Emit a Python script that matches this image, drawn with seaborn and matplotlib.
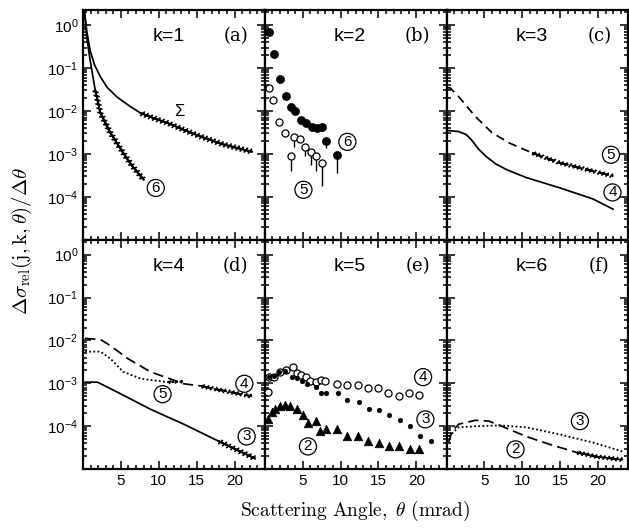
import numpy as np
import seaborn as sns
import matplotlib.pyplot as plt
import matplotlib.ticker as mticker
import matplotlib.patheffects as pe

# ---- data (x in mrad, y = relative cross section) ----
# (a) k=1
a_sum_x = [0.2, 0.5, 0.93, 1.5, 2.3, 3.2, 4.5, 6.0, 7.6, 9.5, 11.2, 13.5, 15.6, 18.5, 22.3]
a_sum_y = [2.0, 0.71, 0.26, 0.12, 0.062, 0.035, 0.021, 0.0135, 0.0089, 0.0066, 0.0052, 0.0035, 0.0025, 0.00166, 0.00112]
a_j6_x = [0.2, 0.5, 0.93, 1.6, 2.3, 3.6, 5.3, 6.5, 8.0]
a_j6_y = [2.0, 0.5, 0.155, 0.031, 0.0089, 0.0031, 0.00105, 0.00052, 0.00025]

# (b) k=2, measured points
b_j6_x = [0.53, 1.2, 2.0, 2.8, 3.4, 4.0, 4.8, 5.4, 6.2, 6.9, 7.5, 8.1, 9.5]
b_j6_y = [0.69, 0.21, 0.055, 0.022, 0.0123, 0.010, 0.0062, 0.0052, 0.0043, 0.0040, 0.0043, 0.0020, 0.00095]
b_j6_err_x = [8.1, 9.5]
b_j6_err_top = [0.0020, 0.00095]
b_j6_err_low = [0.00138, 0.00035]
b_j5_x = [0.53, 1.1, 1.9, 2.7, 3.4, 3.9, 4.7, 5.3, 6.1, 6.8, 7.5]
b_j5_y = [0.035, 0.0178, 0.0056, 0.0030, 0.00087, 0.0025, 0.0022, 0.00148, 0.00112, 0.00089, 0.00062]
b_j5_err_x = [3.4, 3.9, 5.3, 6.1, 6.8, 7.5]
b_j5_err_top = [0.00087, 0.0025, 0.00148, 0.00112, 0.00089, 0.00062]
b_j5_err_low = [0.00039, 0.00148, 0.00087, 0.00055, 0.00039, 0.000174]

# (c) k=3
c_j5_x = [0.1, 0.5, 1.6, 3.8, 6.0, 8.3, 11.3, 14.9, 18.5, 22.0]
c_j5_y = [0.035, 0.034, 0.0214, 0.0074, 0.0031, 0.00178, 0.00105, 0.00062, 0.00043, 0.00030]
c_j4_x = [0.1, 1.6, 2.6, 3.3, 4.2, 5.2, 6.5, 7.9, 10.5, 14.9, 19.3, 22.0]
c_j4_y = [0.0035, 0.0033, 0.0028, 0.0021, 0.0013, 0.00087, 0.00058, 0.00043, 0.00028, 0.000162, 0.000089, 0.000051]

# (d) k=4
d_j4_x = [0.27, 2.3, 3.6, 5.9, 8.9, 13.3, 15.6, 17.9, 22.3]
d_j4_y = [0.0112, 0.0105, 0.0076, 0.0038, 0.00186, 0.00098, 0.00087, 0.00071, 0.0005]
d_j5_x = [0.27, 2.3, 3.6, 5.3, 7.6, 11.2, 13.3]
d_j5_y = [0.0055, 0.0055, 0.0038, 0.00186, 0.00129, 0.00107, 0.0011]
d_j3_x = [0.27, 1.9, 4.5, 8.9, 13.3, 17.9, 22.7]
d_j3_y = [0.00107, 0.00107, 0.00063, 0.00025, 0.000112, 0.000045, 0.0000178]

# (e) k=5, measured points
e_j4_x = [0.4, 0.6, 1.2, 2.0, 2.8, 3.7, 4.2, 4.8, 5.4, 6.0, 6.7, 7.4, 8.0, 9.5, 10.9,
          12.3, 13.6, 14.9, 16.3, 17.7, 19.1, 20.4]
e_j4_y = [0.00063, 0.0014, 0.0014, 0.00186, 0.0021, 0.00245, 0.00178, 0.00158, 0.0014, 0.00115, 0.00107,
          0.0012, 0.00115, 0.00098, 0.00091, 0.00091, 0.00078, 0.00078, 0.0006, 0.00051, 0.0006, 0.00054]
e_j3_x = [0.53, 1.2, 1.9, 2.7, 3.6, 4.2, 4.9, 5.6, 6.7, 7.4, 8.1, 9.6, 10.9, 12.4, 13.7,
          15.1, 16.4, 17.9, 19.2, 20.5, 22.0]
e_j3_y = [0.0014, 0.0015, 0.00186, 0.00195, 0.0014, 0.00135, 0.00115, 0.00098, 0.00083, 0.0006, 0.0006,
          0.0006, 0.00041, 0.00036, 0.00026, 0.00024, 0.000182, 0.000138, 0.0001, 0.000058, 0.000045]
e_j2_x = [0.4, 0.9, 1.3, 2.0, 2.7, 3.3, 4.2, 5.0, 5.7, 6.7, 7.3, 8.1, 9.5, 10.8, 12.3,
          13.6, 15.1, 16.4, 17.7, 19.2, 20.4]
e_j2_y = [0.000145, 0.00021, 0.00026, 0.0003, 0.00031, 0.0003, 0.00025, 0.000182, 0.000117, 0.000132, 0.000076,
          0.000085, 0.000085, 0.000058, 0.000058, 0.000045, 0.00004, 0.000034, 0.000035, 0.00003, 0.00003]

# (f) k=6
f_j2_x = [0.27, 0.7, 1.6, 3.8, 5.6, 7.3, 10.5, 13.6, 17.2, 19.9, 23.3]
f_j2_y = [0.000042, 0.000076, 0.000112, 0.000138, 0.000132, 0.0001, 0.000058, 0.000038, 0.0000245, 0.0000195, 0.0000166]
f_j3_x = [0.27, 1.6, 3.8, 6.9, 10.5, 14.9, 19.3, 23.3]
f_j3_y = [0.000058, 0.000095, 0.0001, 0.000105, 0.000095, 0.000065, 0.000042, 0.0000257]

k_labels = ["k=1", "k=2", "k=3", "k=4", "k=5", "k=6"]
panel_tags = ["(a)", "(b)", "(c)", "(d)", "(e)", "(f)"]

sns.set_style("ticks")
plt.rcParams["font.family"] = ["Liberation Sans", "DejaVu Sans"]
plt.rcParams["mathtext.fontset"] = "cm"
for key in ["axes.edgecolor", "xtick.color", "ytick.color", "text.color", "axes.labelcolor"]:
    plt.rcParams[key] = "black"

fig, axes = plt.subplots(2, 3, figsize=(6.29, 5.29), dpi=100, sharex=True, sharey=True)
fig.subplots_adjust(left=0.132, right=0.999, bottom=0.113, top=0.981, wspace=0, hspace=0)
axs = axes.flatten()

hatch = [pe.Normal(),
         pe.withTickedStroke(spacing=3.0, angle=65, length=0.6),
         pe.withTickedStroke(spacing=3.0, angle=-115, length=0.6)]


def curve(ax, x, y, ls="-", hatch_from=None, lw=1.25):
    sns.lineplot(x=x, y=y, ax=ax, color="k", linestyle=ls, linewidth=lw, sort=False)
    if hatch_from is not None:
        hx = [xi for xi in x if xi >= hatch_from]
        hy = [yi for xi, yi in zip(x, y) if xi >= hatch_from]
        sns.lineplot(x=hx, y=hy, ax=ax, color="k", linestyle=ls, linewidth=lw,
                     sort=False, path_effects=hatch)


def tag(ax, x, y, s):
    ax.text(x, y, s, fontsize=11, ha="center", va="center",
            bbox=dict(boxstyle="circle,pad=0.1", fc="none", ec="k", lw=0.9))


# (a)
ax = axs[0]
curve(ax, a_sum_x, a_sum_y, hatch_from=7.6)
curve(ax, a_j6_x, a_j6_y, hatch_from=1.6)
ax.text(12.7, 0.0095, "Σ", fontsize=12, ha="center", va="center")
tag(ax, 9.6, 0.00016, "6")

# (b)
ax = axs[1]
ax.vlines(b_j6_err_x, b_j6_err_low, b_j6_err_top, color="k", lw=1)
ax.vlines(b_j5_err_x, b_j5_err_low, b_j5_err_top, color="k", lw=1)
sns.scatterplot(x=b_j6_x, y=b_j6_y, ax=ax, color="k", s=34, edgecolor="k", zorder=3)
sns.scatterplot(x=b_j5_x, y=b_j5_y, ax=ax, facecolor="white", edgecolor="k", s=26, linewidth=0.9, zorder=3)
tag(ax, 10.9, 0.0019, "6")
tag(ax, 5.1, 0.000145, "5")

# (c)
ax = axs[2]
curve(ax, c_j5_x, c_j5_y, ls=(0, (5, 3)), hatch_from=9.5)
curve(ax, c_j4_x, c_j4_y)
tag(ax, 21.7, 0.00095, "5")
tag(ax, 21.9, 0.000126, "4")

# (d)
ax = axs[3]
curve(ax, d_j4_x, d_j4_y, ls=(0, (6, 3)), hatch_from=15.6)
curve(ax, d_j5_x, d_j5_y, ls=(0, (1, 1.3)), hatch_from=8.9, lw=1.3)
curve(ax, d_j3_x, d_j3_y, hatch_from=17.9)
tag(ax, 21.3, 0.00098, "4")
tag(ax, 10.5, 0.00056, "5")
tag(ax, 21.6, 0.000058, "3")

# (e)
ax = axs[4]
sns.scatterplot(x=e_j4_x, y=e_j4_y, ax=ax, facecolor="white", edgecolor="k", s=26, linewidth=0.9, zorder=3)
sns.scatterplot(x=e_j3_x, y=e_j3_y, ax=ax, color="k", s=12, edgecolor="k", zorder=4)
sns.scatterplot(x=e_j2_x, y=e_j2_y, ax=ax, color="k", marker="^", s=38, edgecolor="k", zorder=3)
tag(ax, 20.9, 0.0014, "4")
tag(ax, 21.2, 0.000145, "3")
tag(ax, 5.7, 0.000034, "2")

# (f)
ax = axs[5]
curve(ax, f_j2_x, f_j2_y, ls=(0, (6, 3)), hatch_from=17.2)
curve(ax, f_j3_x, f_j3_y, ls=(0, (1, 1.3)), lw=1.3)
tag(ax, 17.6, 0.000132, "3")
tag(ax, 9.1, 0.000029, "2")

for i, ax in enumerate(axs):
    ax.set_yscale("log")
    ax.set_xlim(0, 24)
    ax.set_ylim(1e-5, 2.24)
    ax.yaxis.set_major_locator(mticker.LogLocator(base=10, numticks=10))
    ax.yaxis.set_minor_locator(mticker.LogLocator(base=10, subs=np.arange(2, 10), numticks=20))
    ax.yaxis.set_minor_formatter(mticker.NullFormatter())
    ax.xaxis.set_major_locator(mticker.MultipleLocator(5))
    ax.xaxis.set_minor_locator(mticker.MultipleLocator(1))
    ax.tick_params(which="both", direction="in", top=True, right=True, labelsize=11, width=1.1)
    ax.tick_params(which="major", length=6)
    ax.tick_params(which="minor", length=3)
    for sp in ax.spines.values():
        sp.set_linewidth(1.6)
    ax.set_yticks([1e0, 1e-1, 1e-2, 1e-3, 1e-4])
    ax.text(0.47, 0.885, k_labels[i], transform=ax.transAxes, fontsize=14, ha="center", va="center")
    ax.text(0.84, 0.885, panel_tags[i], transform=ax.transAxes, fontsize=13, ha="center", va="center",
            family="DejaVu Serif")

for ax in axs[3:]:
    ax.set_xticks([5, 10, 15, 20])
    ax.set_xticklabels(["5", "10", "15", "20"])

fig.text(0.035, 0.545, r"$\Delta\sigma_{\rm rel}(\rm j,k,\theta)/\Delta\theta$", rotation=90,
         fontsize=15, ha="center", va="center")
fig.text(0.565, 0.035, r"$\rm Scattering\ Angle,\ \theta\ (mrad)$", fontsize=14, ha="center", va="center")

plt.savefig("out.png", dpi=100)
